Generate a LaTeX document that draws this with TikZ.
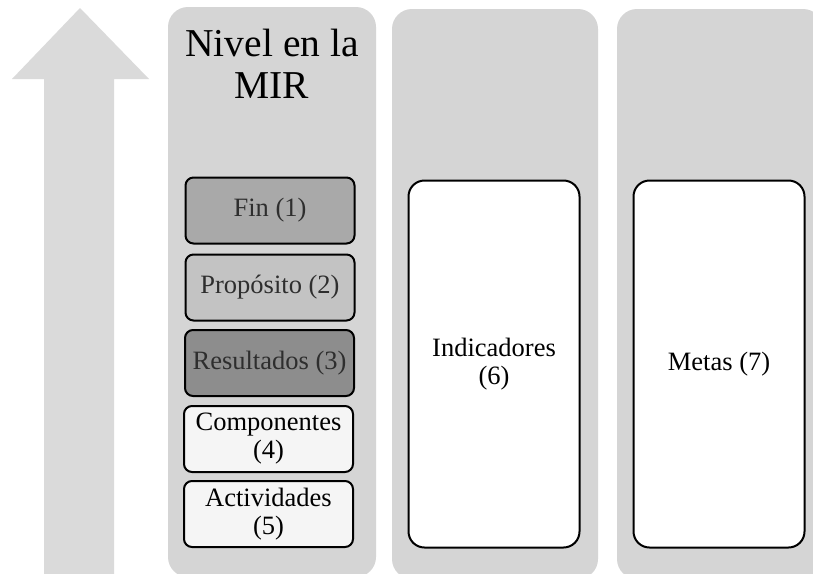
\documentclass[tikz,border=0pt]{standalone}
\usepackage{fontspec}
\setmainfont{Liberation Serif}
\definecolor{panelgray}{HTML}{D5D5D5}
\definecolor{arrowgray}{HTML}{DADADA}
\definecolor{fingray}{HTML}{A9A9A9}
\definecolor{propgray}{HTML}{C3C3C3}
\definecolor{resgray}{HTML}{8D8D8D}
\definecolor{lightbox}{HTML}{F5F5F5}
\definecolor{dimtext}{HTML}{2E2E2E}
\begin{document}
\begin{tikzpicture}[x=1pt,y=-1pt,
  panel/.style={fill=panelgray, draw=none, rounded corners=20pt, inner sep=0pt},
  levelbox/.style={draw=black, line width=2pt, rounded corners=8pt, minimum width=169pt, minimum height=66pt, inner sep=2pt, align=center, font=\fontsize{26.5}{28}\selectfont},
  bigbox/.style={draw=black, line width=2pt, fill=white, rounded corners=16pt, minimum width=171pt, minimum height=367pt, inner sep=2pt, align=center, font=\fontsize{26.5}{28}\selectfont},
]
\clip (0,0) rectangle (813,573);
\fill[white] (0,0) rectangle (813,573);
% arrow
\fill[arrowgray] (80,8) -- (149,79) -- (114,79) -- (114,580) -- (44,580) -- (44,79) -- (12,79) -- cycle;
% panels
\node[panel, minimum width=208pt, minimum height=570pt] (p1) at (272,292) {};
\node[panel, minimum width=206pt, minimum height=570pt] (p2) at (495,294) {};
\node[panel, minimum width=206pt, minimum height=570pt] (p3) at (720,294) {};
% title
\node[align=center, font=\fontsize{39.5}{42}\selectfont, inner sep=0pt] (title) at (272,64) {Nivel en la\\MIR};
% level boxes
\node[levelbox, fill=fingray, text=dimtext] (fin) at (270,210.5) {Fin (1)};
\node[levelbox, fill=propgray, text=dimtext] (prop) at (270,287.5) {Propósito (2)};
\node[levelbox, fill=resgray, text=dimtext] (res) at (269.5,363) {Resultados (3)};
\node[levelbox, fill=lightbox] (comp) at (268.5,439) {Componentes\\(4)};
\node[levelbox, fill=lightbox] (act) at (268.5,514) {Actividades\\(5)};
% big boxes
\node[bigbox] (ind) at (494,364) {Indicadores\\(6)};
\node[bigbox] (met) at (719,364) {Metas (7)};
\end{tikzpicture}
\end{document}
